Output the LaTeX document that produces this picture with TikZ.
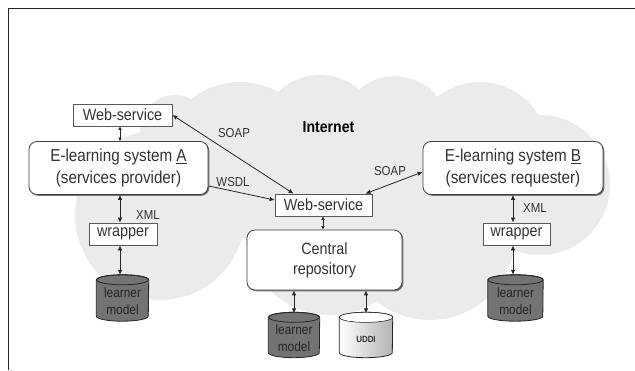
\documentclass[tikz,border=0pt]{standalone}
\usepackage{fontspec}
\setmainfont{Liberation Sans}[FakeStretch=0.88]
\usetikzlibrary{arrows.meta,shadows}
\newcommand\drawcyl[4]{%
  \path[#3,draw=#4,line width=0.8pt] ([yshift=-5pt]#1.north west) -- ([yshift=5pt]#1.south west)
    arc[start angle=180,end angle=360,x radius=#2,y radius=5pt]
    -- ([yshift=-5pt]#1.north east)
    arc[start angle=0,end angle=180,x radius=#2,y radius=5pt] -- cycle;
  \draw[#4,line width=0.8pt] ([yshift=-5pt]#1.north) ellipse[x radius=#2,y radius=5pt];
}
\begin{document}
\begin{tikzpicture}[x=1pt,y=-1pt,
  every node/.style={font=\fontsize{16.3}{20}\selectfont, text=black!80},
  wsbox/.style={draw=black!65, fill=white, line width=0.8pt, minimum height=22pt, inner sep=0pt},
  sysbox/.style={draw=black!75, fill=white, line width=0.8pt, rounded corners=8pt, align=center, inner sep=0pt,
     drop shadow={shadow xshift=1.3pt, shadow yshift=-1.3pt, opacity=1, fill=black!55}},
  systext/.style={font=\fontsize{17.3}{21.7}\selectfont},
  cylbox/.style={minimum width=#1, minimum height=46pt, inner sep=0pt},
  cyltext/.style={align=center, font=\fontsize{13.5}{16.5}\selectfont, text=black!85},
  lbl/.style={font=\fontsize{13}{14}\selectfont},
  dbl/.style={{Latex[length=5pt,width=4.5pt]}-{Latex[length=5pt,width=4.5pt]}, line width=0.8pt, draw=black!85},
  sgl/.style={-{Latex[length=5pt,width=4.5pt]}, line width=0.8pt, draw=black!85},
  sml/.style={{Latex[length=3.5pt,width=3.5pt]}-{Latex[length=3.5pt,width=3.5pt]}, line width=0.7pt, draw=black!85},
  cloud/.style={fill=black!8}
]
\useasboundingbox (0,0) rectangle (635,370);
% cloud
\fill[cloud] (160,215) circle[radius=85pt];
\fill[cloud] (240,160) circle[radius=78pt];
\fill[cloud] (320,135) circle[radius=60pt];
\fill[cloud] (395,130) circle[radius=54pt];
\fill[cloud] (480,150) circle[radius=68pt];
\fill[cloud] (540,185) circle[radius=70pt];
\fill[cloud] (330,230) circle[radius=85pt];
\fill[cloud] (430,235) circle[radius=85pt];
\fill[cloud] (175,130) circle[radius=35pt];
% frame
\draw[line width=1pt, black!85] (8,370) -- (8,8) -- (635,8);

% nodes
\node[wsbox, minimum width=99pt] (wsA) at (122.5,115) {Web-service};
\node[sysbox, systext, minimum width=179pt, minimum height=53pt] (elA) at (118.5,168) {E-learning system \underline{A}\\(services provider)};
\node[wsbox, minimum width=68pt] (wrapA) at (123,234) {wrapper};
\node[cylbox=52pt] (lmA) at (122.5,298) {};

\node[wsbox, minimum width=97pt] (wsC) at (323.5,205) {Web-service};
\node[sysbox, minimum width=155pt, minimum height=60pt] (crep) at (324.5,260) {Central\\repository};
\node[cylbox=51pt, minimum height=45pt] (lmC) at (294,335) {};
\node[cylbox=53pt, minimum height=45pt] (uddi) at (366,335) {};

\node[sysbox, systext, minimum width=180pt, minimum height=53pt] (elB) at (513,168) {E-learning system \underline{B}\\(services requester)};
\node[wsbox, minimum width=67pt] (wrapB) at (516.5,234) {wrapper};
\node[cylbox=55pt] (lmB) at (515.5,298) {};

% cylinders
\drawcyl{lmA}{26pt}{fill=black!55}{black!85}
\drawcyl{lmC}{25.5pt}{fill=black!55}{black!85}
\drawcyl{lmB}{27.5pt}{fill=black!55}{black!85}
\drawcyl{uddi}{26.5pt}{left color=white,right color=black!30}{black!85}
\fill[white] ([yshift=-5pt]uddi.north) ellipse[x radius=26pt,y radius=4.6pt];
\node[cyltext] (lmAt) at ([yshift=-3pt]lmA.center) {learner\\model};
\node[cyltext] (lmCt) at ([yshift=-3pt]lmC.center) {learner\\model};
\node[cyltext] (lmBt) at ([yshift=-3pt]lmB.center) {learner\\model};
\node[font=\fontsize{9}{10}\selectfont\bfseries, text=black!80] (uddit) at ([yshift=-4pt]uddi.center) {UDDI};

% connectors
\draw[sml] ([xshift=-2.5pt]wsA.south) -- ([xshift=-2.5pt]wsA.south |- elA.north);
\draw[dbl] ([xshift=-3pt]wrapA.north |- elA.south) -- ([xshift=-3pt]wrapA.north);
\draw[dbl] ([xshift=-3pt]wrapA.south) -- ([xshift=-3pt]wrapA.south |- lmA.north);
\draw[dbl] (wsA.east) -- ([xshift=-30pt]wsC.north);
\draw[sgl] ([yshift=9pt]elA.south east) -- ([yshift=5pt]wsC.west);
\draw[dbl] ([xshift=42pt]wsC.north) -- ([yshift=-4pt]elB.west);
\draw[sml] ([xshift=-0.5pt]wsC.south) -- ([xshift=-0.5pt]wsC.south |- crep.north);
\draw[dbl] (crep.south -| lmC.north) -- ([yshift=-1pt]lmC.north);
\draw[dbl] (crep.south -| uddi.north) -- ([yshift=-1pt]uddi.north);
\draw[dbl] (elB.south) -- (elB.south |- wrapB.north);
\draw[dbl] (elB.south |- wrapB.south) -- (elB.south |- lmB.north);

% labels
\node[font=\fontsize{16}{18}\selectfont\bfseries, text=black] (inet) at (328.5,127) {Internet};
\node[lbl] (soapA) at (234,133) {SOAP};
\node[lbl] (wsdl) at (233,182) {WSDL};
\node[lbl] (soapB) at (390,171) {SOAP};
\node[lbl] (xmlA) at (148,215) {XML};
\node[lbl] (xmlB) at (535,208) {XML};
\end{tikzpicture}
\end{document}
